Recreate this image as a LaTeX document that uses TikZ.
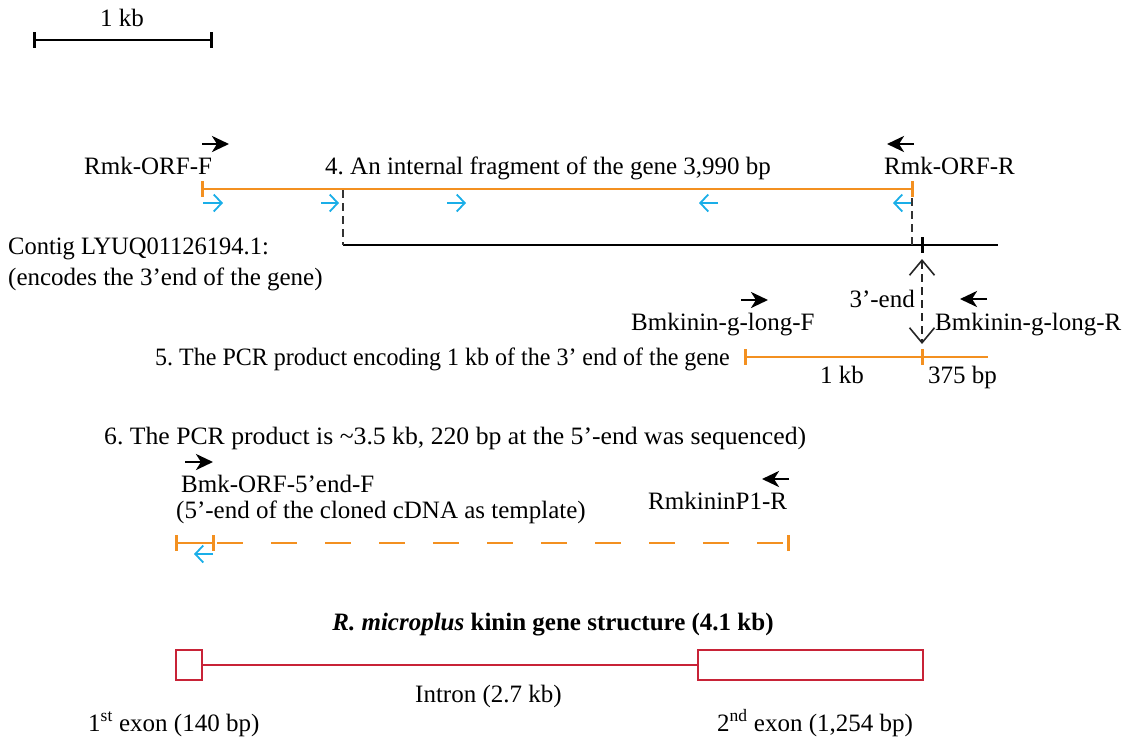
\documentclass[tikz,border=0pt]{standalone}
\usepackage{fontspec}
\setmainfont{Liberation Serif}
\usetikzlibrary{arrows.meta}
\definecolor{ora}{RGB}{243,144,32}
\definecolor{cya}{RGB}{26,174,232}
\definecolor{exred}{RGB}{200,35,55}
\frenchspacing
\tikzset{
  lbl/.style={font=\fontsize{25}{30}\selectfont\frenchspacing, inner sep=0pt, anchor=base west},
  primer/.style={line width=2.8pt, -{Stealth[length=17pt,width=16pt,inset=5pt]}},
  oligo/.style={cya, line width=1.8pt, -{Straight Barb[length=8pt,width=17pt]}},
  oline/.style={ora, line width=2.2pt},
  otick/.style={ora, line width=3pt},
  bline/.style={black, line width=2pt},
  btick/.style={black, line width=3pt},
  vdash/.style={black!80, line width=1.6pt, dash pattern=on 8pt off 5pt},
  dbl/.style={black!85, line width=1.6pt, dash pattern=on 8pt off 5pt,
     {Straight Barb[length=15pt,width=25pt]}-{Straight Barb[length=15pt,width=25pt]}},
  exon/.style={draw=exred, line width=2pt, fill=white}
}
\begin{document}
\begin{tikzpicture}[x=1pt,y=-1pt]
\useasboundingbox (0,0) rectangle (1127,740);
% scale bar
\coordinate (sb1) at (34,40); \coordinate (sb2) at (211,40);
\draw[bline] (sb1) -- (sb2);
\draw[btick] (34,32) -- (34,48);
\draw[btick] (211,32) -- (211,48);
\node[lbl] (sblab) at (100,26) {1 kb};

% row 4
\node[lbl] (orff) at (84,174) {Rmk-ORF-F};
\node[lbl] (frag4) at (325,174) {4. An internal fragment of the gene 3,990 bp};
\node[lbl] (orfr) at (884,174) {Rmk-ORF-R};
\coordinate (pf1) at (202,144); \coordinate (pf2) at (229,144);
\draw[primer] (pf1) -- (pf2);
\coordinate (pr1) at (914,144); \coordinate (pr2) at (887,144);
\draw[primer] (pr1) -- (pr2);
\coordinate (o4a) at (202,189); \coordinate (o4b) at (912,189);
\draw[oline] (o4a) -- (o4b);
\draw[otick] (202,181) -- (202,197);
\draw[otick] (912,181) -- (912,197);
\foreach \a/\b in {203/223, 321/339, 447/466, 718/699, 912/893}
  \draw[oligo] (\a,203) -- (\b,203);

% contig
\node[lbl] (contig) at (8,254) {\scalebox{0.98}[1]{Contig LYUQ01126194.1:}};
\node[lbl] (contig2) at (8,285) {(encodes the 3’end of the gene)};
\coordinate (c1) at (343,245); \coordinate (c2) at (998,245);
\draw[bline] (c1) -- (c2);
\draw[btick] (922,237) -- (922,253);
\draw[vdash] (343,190) -- (c1);
\draw[vdash] (912,198) -- (912,245);

% 3' end
\coordinate (e1) at (922,259); \coordinate (e2) at (922,344);
\draw[dbl] (e1) -- (e2);
\node[lbl, anchor=base east] (end3) at (915,307) {3’-end};

% row 5
\coordinate (gf1) at (741,300); \coordinate (gf2) at (768,300);
\draw[primer] (gf1) -- (gf2);
\coordinate (gr1) at (987,299); \coordinate (gr2) at (960,299);
\draw[primer] (gr1) -- (gr2);
\node[lbl] (glf) at (631,330) {Bmkinin-g-long-F};
\node[lbl] (glr) at (935,330) {Bmkinin-g-long-R};
\node[lbl] (pcr5) at (155,365) {\scalebox{0.96}[1]{5. The PCR product encoding 1 kb of the 3’ end of the gene}};
\coordinate (o5a) at (745,357); \coordinate (o5b) at (988,357);
\draw[oline] (o5a) -- (o5b);
\draw[otick] (745,349) -- (745,365);
\draw[otick] (922,349) -- (922,365);
\node[lbl] (kb5) at (820,383) {1 kb};
\node[lbl] (bp5) at (928,383) {375 bp};

% row 6
\node[lbl] (pcr6) at (104,444) {\scalebox{1.028}[1]{6. The PCR product is \textasciitilde3.5 kb, 220 bp at the 5’-end was sequenced)}};
\coordinate (bf1) at (185,462); \coordinate (bf2) at (213,462);
\draw[primer] (bf1) -- (bf2);
\node[lbl] (b5f) at (181,492) {Bmk-ORF-5’end-F};
\node[lbl] (b5f2) at (176,518) {(5’-end of the cloned cDNA as template)};
\coordinate (p1a) at (789,479); \coordinate (p1b) at (762,479);
\draw[primer] (p1a) -- (p1b);
\node[lbl] (p1r) at (648,509) {RmkininP1-R};
\coordinate (o6a) at (176,543); \coordinate (o6b) at (213,543); \coordinate (o6c) at (788,543);
\draw[oline] (o6a) -- (o6b);
\draw[oline, dash pattern=on 26pt off 28pt, dash phase=-4pt] (o6b) -- (o6c);
\draw[otick] (176,535) -- (176,551);
\draw[otick] (213,535) -- (213,551);
\draw[otick] (788,535) -- (788,551);
\draw[oligo] (213,554) -- (194,554);

% gene structure
\node[lbl, anchor=base] (title) at (553,630) {\textbf{\textit{R. microplus} kinin gene structure (4.1 kb)}};
\node[exon, minimum width=26pt, minimum height=30pt, anchor=north west] (ex1) at (175,649) {};
\node[exon, minimum width=225pt, minimum height=30pt, anchor=north west] (ex2) at (697,649) {};
\draw[exred, line width=1.8pt] (ex1.east) -- (ex2.west);
\node[lbl] (intron) at (415,702) {Intron (2.7 kb)};
\node[lbl] (ex1l) at (88,731) {1\textsuperscript{st} exon (140 bp)};
\node[lbl] (ex2l) at (717,731) {2\textsuperscript{nd} exon (1,254 bp)};
\end{tikzpicture}
\end{document}
